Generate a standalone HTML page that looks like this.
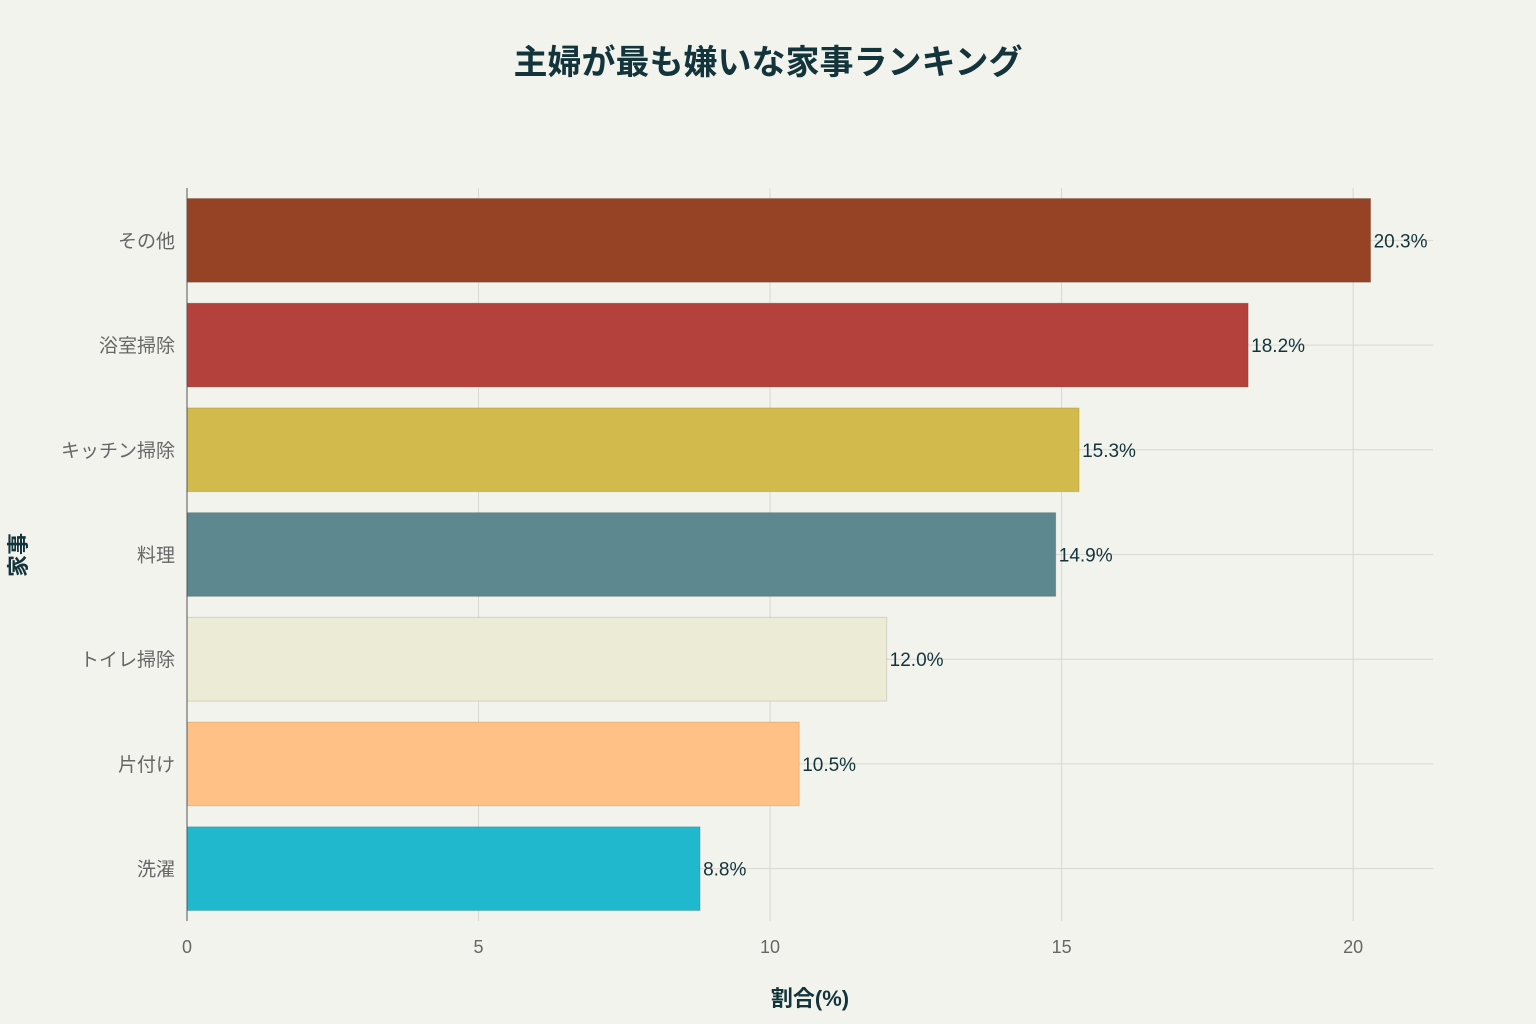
<!DOCTYPE html>
<html><head><meta charset="utf-8">
<style>
body{margin:0;background:#f3f3ee;}
svg{display:block;font-family:"Liberation Sans","Noto Sans CJK JP",sans-serif;}
</style></head>
<body>
<svg id="chart" width="1536" height="1024" viewBox="0 0 1536 1024">
<rect width="1536" height="1024" fill="#f3f3ee"/>
<text x="768" y="74" text-anchor="middle" font-size="34" font-weight="bold" fill="#13343b">主婦が最も嫌いな家事ランキング</text>
<g id="grid"></g>
<g id="bars"></g>
<g id="labels"></g>
<text x="810" y="1006" text-anchor="middle" font-size="22" font-weight="bold" fill="#13343b">割合(%)</text>
<text transform="translate(26,555) rotate(-90)" text-anchor="middle" font-size="22" font-weight="bold" fill="#13343b">家事</text>
</svg>
<script>
const categories=["その他","浴室掃除","キッチン掃除","料理","トイレ掃除","片付け","洗濯"];
const values=[20.3,18.2,15.3,14.9,12.0,10.5,8.8];
const colors=["#964325","#b4413c","#d2ba4c","#5e8890","#ecebd5","#ffc185","#1fb8cd"];
const xTicks=[0,5,10,15,20];
const NS="http://www.w3.org/2000/svg";
const plotLeft=187,plotRight=1433,plotTop=188,plotBottom=921,xMax=21.37;
const xs=v=>plotLeft+v/xMax*(plotRight-plotLeft);
const band=(plotBottom-plotTop)/categories.length;
const yc=i=>plotTop+band*(i+0.5);
function mk(t,a,p){const e=document.createElementNS(NS,t);for(const k in a)e.setAttribute(k,a[k]);p.appendChild(e);return e;}
const gridG=document.getElementById('grid'),barsG=document.getElementById('bars'),labelsG=document.getElementById('labels');
xTicks.forEach(t=>{
  if(t>0){const l=mk('line',{x1:xs(t),x2:xs(t),y1:plotTop,y2:plotBottom,stroke:'#d8d8d2','stroke-width':1},gridG);
  
  }
  const tx=mk('text',{x:xs(t),y:953,'text-anchor':'middle','font-size':18,fill:'#666'},labelsG);
  tx.textContent=t;
  
  
});
categories.forEach((c,i)=>{
  const g=mk('line',{x1:plotLeft,x2:plotRight,y1:yc(i),y2:yc(i),stroke:'#d8d8d2','stroke-width':1},gridG);
  
  
  const h=band*0.8;
  const r=mk('rect',{x:plotLeft,y:yc(i)-h/2,width:xs(values[i])-plotLeft,height:h,fill:colors[i],stroke:'rgba(0,0,0,0.12)','stroke-width':1},barsG);
  
  
  const lb=mk('text',{x:175,y:yc(i)+7,'text-anchor':'end','font-size':19,fill:'#666'},labelsG);
  lb.textContent=c;
  
  
  const v=mk('text',{x:xs(values[i])+3,y:yc(i)+7,'font-size':19,fill:'#13343b'},labelsG);
  v.textContent=values[i].toFixed(1)+'%';
  
  
});
const ax=mk('line',{x1:plotLeft,x2:plotLeft,y1:plotTop,y2:plotBottom,stroke:'#555','stroke-width':1},labelsG);


</script>
</body></html>
